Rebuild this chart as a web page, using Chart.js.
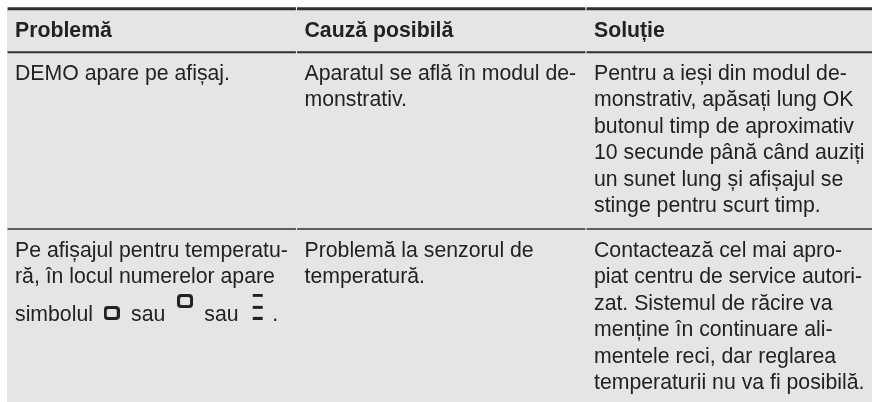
<!DOCTYPE html>
<html>
<head>
<meta charset="utf-8">
<title>Problemă / Cauză posibilă / Soluție</title>
<script src="https://cdn.jsdelivr.net/npm/chart.js@4"></script>
<style>
  html, body { margin: 0; padding: 0; background: #fff; overflow: hidden; }
  canvas { display: block; }
</style>
</head>
<body>
<canvas id="tableChart" width="872" height="402"></canvas>
<script>
// table text, one list per cell, one entry per printed line
const headers = ["Problemă", "Cauză posibilă", "Soluție"];
const row1Problem = ["DEMO apare pe afișaj."];
const row1Cause = ["Aparatul se află în modul de-", "monstrativ."];
const row1Solution = [
  "Pentru a ieși din modul de-",
  "monstrativ, apăsați lung OK",
  "butonul timp de aproximativ",
  "10 secunde până când auziți",
  "un sunet lung și afișajul se",
  "stinge pentru scurt timp."
];
const row2Problem = ["Pe afișajul pentru temperatu-", "ră, în locul numerelor apare"];
const row2Cause = ["Problemă la senzorul de", "temperatură."];
const row2Solution = [
  "Contactează cel mai apro-",
  "piat centru de service autori-",
  "zat. Sistemul de răcire va",
  "menține în continuare ali-",
  "mentele reci, dar reglarea",
  "temperaturii nu va fi posibilă."
];
const symbolLineWords = ["simbolul", "sau", "sau", "."];

// layout, x in columns and y in printed lines
const lineStep = 26.5;
const colWidth = 289.5;
const headerLine = 1.41;
const row1Line = 3.0;
const row2Line = 9.68;
const symbolLine = 12.1;
const symbolWordX = [0, 0.4007, 0.654, 0.889];
const ruleLines = [0.33, 1.974, 8.64];
const ruleWidths = [3, 2, 2];
const ruleColors = ["#2e2e2e", "#333333", "#5c5c5c"];
const cellPad = 8;
const TEXT_FONT = '21.25px "Liberation Sans", Arial, sans-serif';
const HEAD_FONT = 'bold 21.25px "Liberation Sans", Arial, sans-serif';

function cellPoints(lines, col, firstLine) {
  return lines.map(function (t, i) {
    return { x: col, y: firstLine + i, label: t };
  });
}

var textPoints = [];
headers.forEach(function (h, i) {
  textPoints.push({ x: i, y: headerLine, label: h, bold: true });
});
textPoints = textPoints.concat(
  cellPoints(row1Problem, 0, row1Line),
  cellPoints(row1Cause, 1, row1Line),
  cellPoints(row1Solution, 2, row1Line),
  cellPoints(row2Problem, 0, row2Line),
  cellPoints(row2Cause, 1, row2Line),
  cellPoints(row2Solution, 2, row2Line)
);
symbolLineWords.forEach(function (w, i) {
  textPoints.push({ x: symbolWordX[i], y: symbolLine, label: w });
});

// little display glyphs that sit inside the sentence
function boxGlyph() {
  var c = document.createElement("canvas");
  c.width = 16; c.height = 14;
  var g = c.getContext("2d");
  g.fillStyle = "#222";
  g.beginPath();
  g.roundRect(0, 0, 16, 14, 4);
  g.roundRect(3, 3, 10, 8, 1.5);
  g.fill("evenodd");
  return c;
}
function barsGlyph() {
  var c = document.createElement("canvas");
  c.width = 12; c.height = 26;
  var g = c.getContext("2d");
  g.fillStyle = "#222";
  g.fillRect(1, 0, 10, 3);
  g.fillRect(1, 12, 10, 3);
  g.fillRect(1, 23, 10, 3);
  return c;
}

function ruleDataset(line, width, color) {
  var pts = [];
  for (var c = 0; c < 3; c++) {
    pts.push({ x: c + 0.002, y: line }, { x: c + 0.998, y: line }, { x: null, y: null });
  }
  return { type: "line", data: pts, borderColor: color, borderWidth: width, pointRadius: 0, spanGaps: false, parsing: false };
}

const panelPlugin = {
  id: "panel",
  beforeDatasetsDraw(chart) {
    const { ctx, scales, chartArea } = chart;
    const top = scales.y.getPixelForValue(ruleLines[0]);
    ctx.save();
    ctx.fillStyle = "#e4e5e7";
    ctx.fillRect(chartArea.left, top, chartArea.right - chartArea.left, chartArea.bottom - top);
    ctx.restore();
  }
};

const labelPlugin = {
  id: "cellText",
  afterDatasetsDraw(chart) {
    const { ctx, scales } = chart;
    ctx.save();
    ctx.textAlign = "left";
    ctx.textBaseline = "alphabetic";
    ctx.fillStyle = "#222222";
    textPoints.forEach(function (p) {
      ctx.font = p.bold ? HEAD_FONT : TEXT_FONT;
      ctx.fillText(p.label, scales.x.getPixelForValue(p.x) + cellPad, scales.y.getPixelForValue(p.y));
    });
    ctx.restore();
  }
};

new Chart(document.getElementById("tableChart"), {
  type: "scatter",
  data: {
    datasets: [
      ruleDataset(ruleLines[0], ruleWidths[0], ruleColors[0]),
      ruleDataset(ruleLines[1], ruleWidths[1], ruleColors[1]),
      ruleDataset(ruleLines[2], ruleWidths[2], ruleColors[2]),
      {
        // the three symbols on the third line of the second row
        data: [
          { x: 0.3617, y: 11.81 },
          { x: 0.6149, y: 11.36 },
          { x: 0.866, y: 11.58 }
        ],
        pointStyle: [boxGlyph(), boxGlyph(), barsGlyph()],
        pointRadius: 8
      }
    ]
  },
  options: {
    responsive: false,
    animation: false,
    events: [],
    layout: { autoPadding: false, padding: { left: 7, right: 0, top: 0, bottom: 0 } },
    plugins: { legend: { display: false }, tooltip: { enabled: false } },
    scales: {
      x: { type: "linear", display: false, min: 0, max: 865 / colWidth },
      y: { type: "linear", display: false, reverse: true, min: 0, max: 402 / lineStep }
    }
  },
  plugins: [panelPlugin, labelPlugin]
});
</script>
</body>
</html>
